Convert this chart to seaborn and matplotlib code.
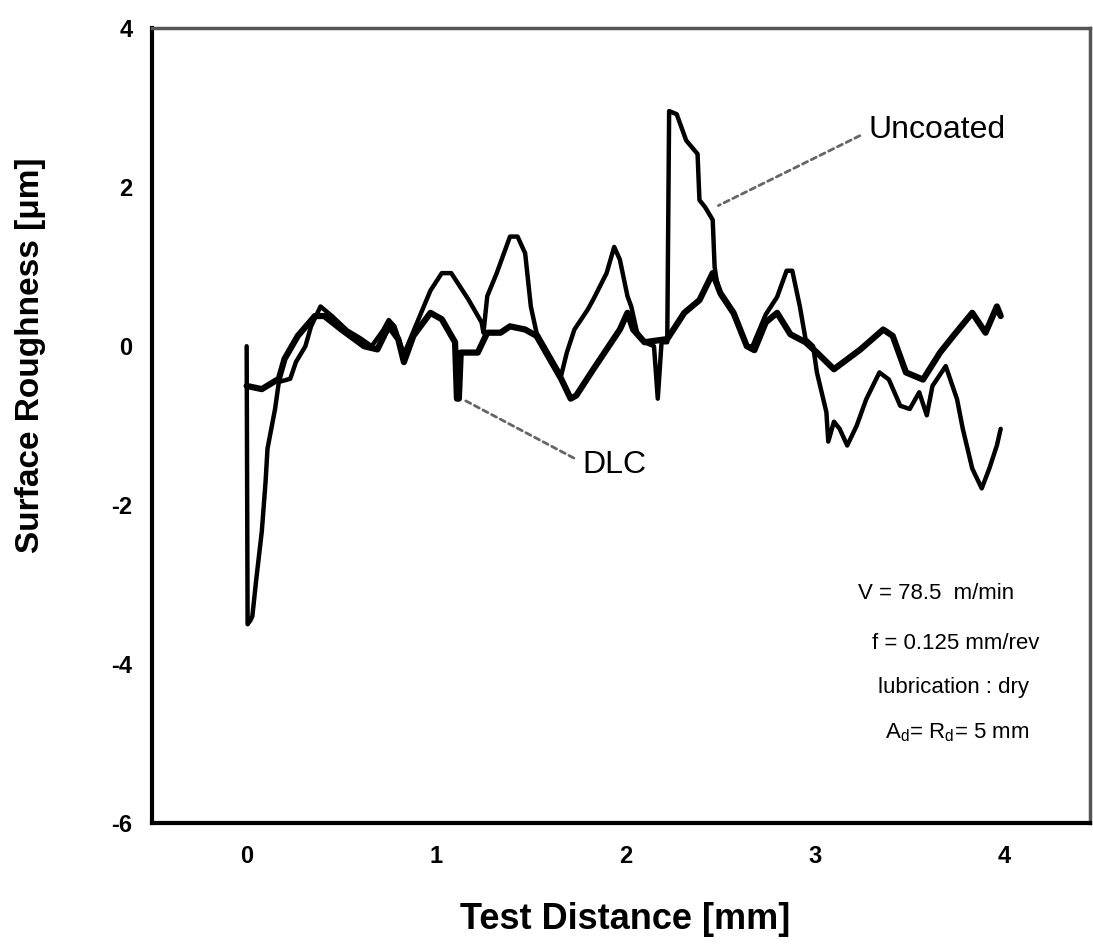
import matplotlib
matplotlib.use("Agg")
import matplotlib.pyplot as plt
import seaborn as sns
import pandas as pd

# ---- data ----
uncoated_x = [0.0, 0.005, 0.02, 0.03, 0.05, 0.08, 0.10, 0.11, 0.15, 0.17, 0.23, 0.26, 0.31, 0.34,
              0.39, 0.45, 0.53, 0.60, 0.66, 0.72, 0.75, 0.78, 0.83, 0.90, 0.97, 1.03, 1.08, 1.17,
              1.24, 1.25, 1.27, 1.32, 1.39, 1.43, 1.47, 1.50, 1.53, 1.59, 1.66, 1.69, 1.73, 1.80,
              1.83, 1.90, 1.94, 1.97, 2.01, 2.03, 2.06, 2.10, 2.15, 2.17, 2.19, 2.22, 2.23, 2.27,
              2.32, 2.38, 2.39, 2.42, 2.46, 2.47, 2.48, 2.50, 2.57, 2.64, 2.67, 2.74, 2.80, 2.85,
              2.88, 2.92, 2.95, 2.99, 3.01, 3.06, 3.07, 3.10, 3.13, 3.17, 3.22, 3.27, 3.34, 3.39,
              3.45, 3.50, 3.55, 3.59, 3.62, 3.69, 3.75, 3.78, 3.83, 3.88, 3.92, 3.96, 3.98]
uncoated_y = [0.0, -3.5, -3.45, -3.4, -2.95, -2.33, -1.7, -1.29, -0.79, -0.45, -0.41, -0.2, 0.0, 0.25,
              0.5, 0.38, 0.2, 0.1, 0.0, 0.2, 0.33, 0.25, -0.1, 0.3, 0.7, 0.92, 0.92, 0.59,
              0.3, 0.17, 0.63, 0.92, 1.38, 1.38, 1.17, 0.5, 0.17, -0.08, -0.37, -0.08, 0.21, 0.46,
              0.59, 0.92, 1.25, 1.09, 0.63, 0.5, 0.18, 0.05, 0.0, -0.66, 0.05, 0.05, 2.96, 2.92,
              2.59, 2.42, 1.84, 1.75, 1.59, 1.0, 0.84, 0.65, 0.4, 0.0, 0.0, 0.4, 0.62, 0.95,
              0.95, 0.5, 0.09, 0.0, -0.33, -0.83, -1.2, -0.95, -1.04, -1.25, -1.0, -0.67, -0.33, -0.42,
              -0.75, -0.79, -0.58, -0.87, -0.5, -0.25, -0.67, -1.04, -1.54, -1.79, -1.54, -1.25, -1.04]

dlc_x = [0.0, 0.08, 0.17, 0.20, 0.27, 0.36, 0.41, 0.50, 0.62, 0.69, 0.75, 0.80, 0.83, 0.88, 0.97,
         1.03, 1.10, 1.11, 1.12, 1.13, 1.22, 1.27, 1.34, 1.39, 1.47, 1.53, 1.59, 1.66, 1.71, 1.74,
         1.83, 1.90, 1.97, 2.01, 2.04, 2.10, 2.22, 2.31, 2.39, 2.46, 2.50, 2.57, 2.64, 2.68, 2.74,
         2.80, 2.87, 2.95, 3.01, 3.10, 3.24, 3.36, 3.41, 3.48, 3.57, 3.66, 3.73, 3.83, 3.90, 3.96, 3.98]
dlc_y = [-0.5, -0.54, -0.41, -0.16, 0.13, 0.38, 0.38, 0.21, 0.0, -0.04, 0.25, 0.09, -0.2, 0.13, 0.42,
         0.34, 0.05, -0.66, -0.66, -0.08, -0.08, 0.17, 0.17, 0.25, 0.21, 0.13, -0.12, -0.41, -0.66, -0.62,
         -0.29, -0.04, 0.21, 0.42, 0.21, 0.05, 0.09, 0.42, 0.58, 0.92, 0.67, 0.42, 0.0, -0.05, 0.3,
         0.42, 0.15, 0.05, -0.08, -0.29, -0.04, 0.21, 0.13, -0.33, -0.42, -0.08, 0.13, 0.42, 0.17, 0.5, 0.38]

x_ticks = [0, 1, 2, 3, 4]
y_ticks = [4, 2, 0, -2, -4, -6]
cond_lines = ["V = 78.5  m/min", "f = 0.125 mm/rev", "lubrication : dry", "A$_\\mathrm{d}$= R$_\\mathrm{d}$= 5 mm"]

# ---- style ----
sns.set_theme(style="white")
plt.rcParams["font.family"] = ["Liberation Sans", "DejaVu Sans"]
plt.rcParams["mathtext.fontset"] = "custom"
plt.rcParams["mathtext.rm"] = "Liberation Sans"
plt.rcParams["mathtext.it"] = "Liberation Sans"
plt.rcParams["mathtext.bf"] = "Liberation Sans:bold"
plt.rcParams["text.color"] = "black"
plt.rcParams["axes.labelcolor"] = "black"
plt.rcParams["xtick.color"] = "black"
plt.rcParams["ytick.color"] = "black"

fig = plt.figure(figsize=(10.93, 9.48), dpi=100)
ax = fig.add_axes([0.139, 0.132, 0.858, 0.838])

df_u = pd.DataFrame({"x": uncoated_x, "y": uncoated_y})
df_d = pd.DataFrame({"x": dlc_x, "y": dlc_y})
sns.lineplot(data=df_u, x="x", y="y", sort=False, estimator=None, color="black", lw=3.2, ax=ax)
sns.lineplot(data=df_d, x="x", y="y", sort=False, estimator=None, color="black", lw=4.5, ax=ax)

ax.set_xlim(-0.5, 4.45)
ax.set_ylim(-6, 4)
ax.set_xticks(x_ticks)
ax.set_yticks(y_ticks)
ax.set_xticklabels([str(t) for t in x_ticks], fontsize=17, fontweight="bold")
ax.set_yticklabels([str(t) for t in y_ticks], fontsize=17, fontweight="bold")
ax.tick_params(axis="both", direction="in", length=7, width=1.5, color="black")
ax.tick_params(axis="x", pad=16)
ax.tick_params(axis="y", pad=14)

ax.set_xlabel("Test Distance [mm]", fontsize=26, fontweight="bold")
ax.set_ylabel("Surface Roughness [\u03bcm]", fontsize=24, fontweight="bold")
ax.xaxis.set_label_coords(0.505, -0.10)
ax.yaxis.set_label_coords(-0.113, 0.589)

for side in ["left", "bottom"]:
    ax.spines[side].set_color("black")
    ax.spines[side].set_linewidth(3)
for side in ["top", "right"]:
    ax.spines[side].set_color("#555555")
    ax.spines[side].set_linewidth(2.5)

ax.annotate("Uncoated", xy=(2.49, 1.77), xytext=(3.28, 2.72), fontsize=23,
            ha="left", va="center",
            arrowprops=dict(arrowstyle="-", linestyle=(0, (2, 1.5)), color="#666666", lw=2,
                            relpos=(0, 0.45), shrinkA=4, shrinkB=0))
ax.annotate("DLC", xy=(1.15, -0.68), xytext=(1.77, -1.50), fontsize=23,
            ha="left", va="center",
            arrowprops=dict(arrowstyle="-", linestyle=(0, (2, 1.5)), color="#666666", lw=2,
                            relpos=(0, 0.6), shrinkA=4, shrinkB=0))

cond_pos = [(3.64, -3.11), (3.74, -3.74), (3.73, -4.30), (3.75, -4.87)]
for (tx, ty), s in zip(cond_pos, cond_lines):
    ax.text(tx, ty, s, fontsize=16, ha="center", va="center")

fig.savefig("out.png", dpi=100)
